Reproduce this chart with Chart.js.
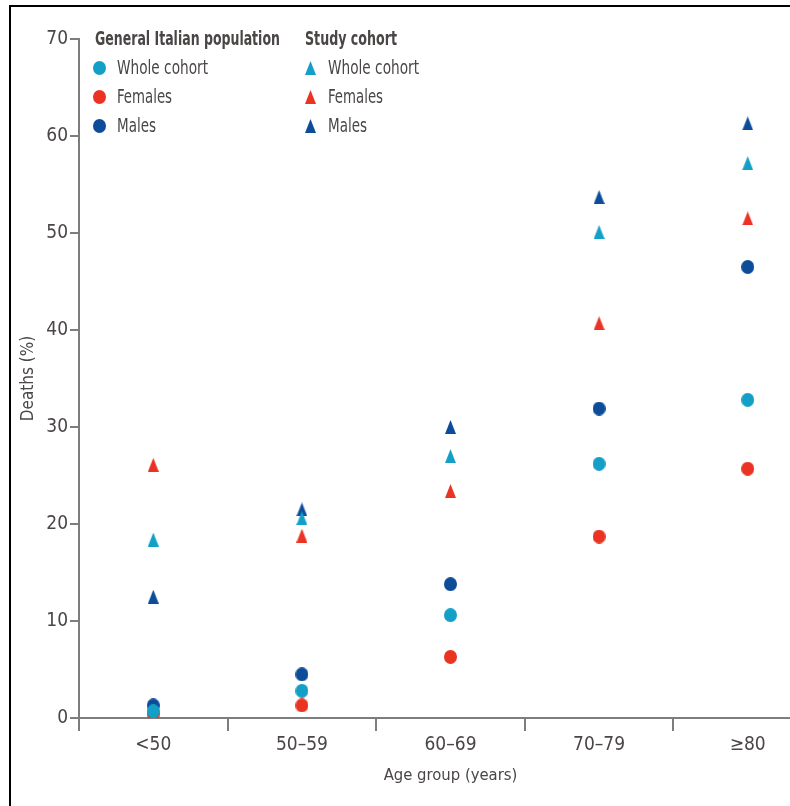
<!DOCTYPE html>
<html>
<head>
<meta charset="utf-8">
<script src="https://cdn.jsdelivr.net/npm/chart.js@4/dist/chart.umd.min.js"></script>
<style>
  html, body { margin: 0; padding: 0; background: #fff; overflow: hidden; width: 790px; height: 806px; }
  #wrap { position: absolute; left: 0; top: 0; width: 840px; height: 806px; }
  #frame { position: absolute; left: 9px; top: 5px; width: 900px; height: 900px; border-top: 2px solid #000; border-left: 2px solid #000; pointer-events: none; }
  .lg { position: absolute; font-family: "Liberation Sans Narrow", "DejaVu Sans Condensed", sans-serif; color: #4a4646; white-space: nowrap; line-height: 1; transform-origin: 0 50%; }
  .hdr { font-weight: bold; font-size: 19px; }
  .item { font-size: 20px; }
  .mk { position: absolute; }
</style>
</head>
<body>
<div id="wrap"><canvas id="c" width="840" height="806"></canvas></div>
<div id="legend"></div>
<div id="frame"></div>
<script>
const categories = ['<50', '50–59', '60–69', '70–79', '≥80'];
const yTicks = [0, 10, 20, 30, 40, 50, 60, 70];

const genWhole    = [0.7, 2.8, 10.6, 26.2, 32.8];
const genFemales  = [0.4, 1.3, 6.3, 18.7, 25.7];
const genMales    = [1.3, 4.5, 13.8, 31.9, 46.5];
const studyWhole   = [18.4, 20.6, 27.0, 50.1, 57.2];
const studyFemales = [26.1, 18.8, 23.4, 40.7, 51.5];
const studyMales   = [12.5, 21.5, 30.0, 53.7, 61.3];

const groupTitles = ['General Italian population', 'Study cohort'];
const seriesLabels = ['Whole cohort', 'Females', 'Males'];

const CYAN = '#14a0c6', RED = '#ea3323', DARK = '#0c4c99';
const colors = [CYAN, RED, DARK];
const FONT = '"Liberation Sans Narrow", "DejaVu Sans Condensed", sans-serif';
const TXT = '#4a4646';
const AX = '#7d7d7d';

// marker images (slightly tall shapes like the reference)
function markerImage(shape, color) {
  const w = shape === 'circle' ? 13 : 11, h = 14;
  const cv = document.createElement('canvas');
  cv.width = w; cv.height = h;
  const g = cv.getContext('2d');
  g.fillStyle = color;
  g.beginPath();
  if (shape === 'circle') {
    g.ellipse(w / 2, h / 2, w / 2, h / 2, 0, 0, Math.PI * 2);
  } else {
    g.moveTo(w / 2, 0); g.lineTo(w, h); g.lineTo(0, h); g.closePath();
  }
  g.fill();
  return cv;
}

function ds(label, data, color, style, order) {
  return {
    label, data, order,
    showLine: false,
    pointStyle: markerImage(style, color),
    pointRadius: 7,
    pointHoverRadius: 7,
    backgroundColor: color,
    borderColor: color
  };
}

const datasets = [
  ds('General – Whole cohort', genWhole, CYAN, 'circle', 0),
  ds('General – Males', genMales, DARK, 'circle', 1),
  ds('General – Females', genFemales, RED, 'circle', 2),
  ds('Study – Whole cohort', studyWhole, CYAN, 'triangle', 3),
  ds('Study – Females', studyFemales, RED, 'triangle', 4),
  ds('Study – Males', studyMales, DARK, 'triangle', 5)
];

new Chart(document.getElementById('c'), {
  type: 'line',
  data: { labels: categories, datasets },
  options: {
    responsive: false,
    animation: false,
    devicePixelRatio: 1,
    layout: { padding: { top: 39, right: 18, left: 0, bottom: 0 } },
    plugins: { legend: { display: false }, tooltip: { enabled: false } },
    scales: {
      x: {
        type: 'category',
        offset: true,
        grid: { offset: true, drawOnChartArea: false, drawTicks: true, tickLength: 13, color: AX, lineWidth: 2 },
        border: { display: true, color: AX, width: 2 },
        ticks: { color: TXT, font: { family: FONT, size: 19 }, padding: 3, maxRotation: 0 },
        title: { display: true, text: 'Age group (years)', color: TXT, font: { family: FONT, size: 16.5 }, padding: { top: 0, bottom: 20 } },
        afterFit: s => { s.height = 88; }
      },
      y: {
        min: 0, max: 70,
        afterBuildTicks: s => { s.ticks = yTicks.map(v => ({ value: v })); },
        grid: { drawOnChartArea: false, drawTicks: true, tickLength: 9, color: AX, lineWidth: 2 },
        border: { display: true, color: AX, width: 2 },
        ticks: { color: TXT, font: { family: FONT, size: 19 }, padding: 2 },
        title: { display: true, text: 'Deaths (%)', color: TXT, font: { family: FONT, size: 17 }, padding: { top: 18, bottom: 0 } },
        afterFit: s => { s.width = 79; }
      }
    }
  }
});

// HTML legend built from the series names and colours
const legend = document.getElementById('legend');
function add(el) { legend.appendChild(el); return el; }
function fitWidth(el, target) {
  const w = el.getBoundingClientRect().width;
  if (w > 0) el.style.transform = 'scaleX(' + (target / w).toFixed(3) + ')';
}
const groups = [
  { title: groupTitles[0], x: 95, markX: 99, textX: 117, style: 'circle', hw: 185 },
  { title: groupTitles[1], x: 305, markX: 310, textX: 328, style: 'triangle', hw: 92 }
];
const itemWidths = [91, 55, 39];
const rowY = [68, 97, 126];
groups.forEach(g => {
  const h = add(document.createElement('div'));
  h.className = 'lg hdr'; h.textContent = g.title;
  h.style.left = g.x + 'px'; h.style.top = '29px';
  fitWidth(h, g.hw);
  seriesLabels.forEach((lab, i) => {
    const t = add(document.createElement('div'));
    t.className = 'lg item'; t.textContent = lab;
    t.style.left = g.textX + 'px'; t.style.top = (rowY[i] - 11) + 'px';
    fitWidth(t, itemWidths[i]);
    const m = add(markerImage(g.style, colors[i]));
    m.className = 'mk';
    m.style.left = (g.markX - m.width / 2) + 'px'; m.style.top = (rowY[i] - 7) + 'px';
  });
});
</script>
</body>
</html>
